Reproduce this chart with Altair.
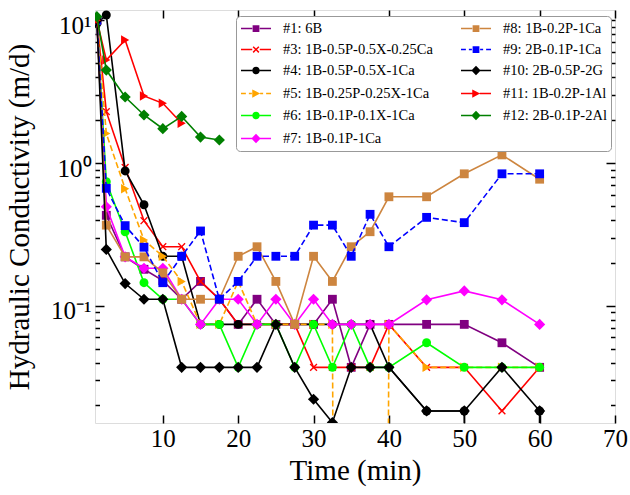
import altair as alt
import pandas as pd

# ---------------- data ----------------
T = [1.25, 2.5, 5, 7.5, 10, 12.5, 15, 17.5, 20, 22.5, 25, 27.5, 30,
     32.5, 35, 37.5, 40, 45, 50, 55, 60]

labels = ["#1: 6B", "#3: 1B-0.5P-0.5X-0.25Ca", "#4: 1B-0.5P-0.5X-1Ca",
          "#5: 1B-0.25P-0.25X-1Ca", "#6: 1B-0.1P-0.1X-1Ca", "#7: 1B-0.1P-1Ca",
          "#8: 1B-0.2P-1Ca", "#9: 2B-0.1P-1Ca", "#10: 2B-0.5P-2G",
          "#11: 1B-0.2P-1Al", "#12: 2B-0.1P-2Al"]

s1 = [10, 0.43, 0.22, 0.18, 0.15, 0.111, 0.148, 0.111, 0.074, 0.111, 0.074,
      0.074, 0.074, 0.111, 0.037, 0.074, 0.074, 0.074, 0.074, 0.055, 0.037]
s3 = [10, 2.29, 0.93, 0.394, 0.259, 0.259, 0.148, 0.111, 0.074, 0.074, 0.074,
      0.074, 0.037, 0.037, 0.037, 0.037, 0.074, 0.037, 0.037, 0.0183, 0.037]
s4 = [9.5, 10.9, 0.88, 0.51, 0.222, 0.222, 0.074, 0.074, 0.074, 0.074, 0.074,
      0.074, 0.074, 0.074, 0.074, 0.074, 0.037, 0.0183, 0.0183, 0, 0.0183]
s5 = [10, 1.61, 0.66, 0.289, 0.222, 0.148, 0.074, 0.074, 0.148, 0.074, 0.074,
      0.074, 0.074, 0.074, 0, 0, 0.074, 0.037, 0.037, 0.037, 0.037]
s6 = [10, 0.74, 0.33, 0.145, 0.111, 0.111, 0.074, 0.074, 0.037, 0.074, 0.074,
      0.037, 0.074, 0.037, 0.074, 0.037, 0.037, 0.055, 0.037, 0.037, 0.037]
s7 = [10, 0.494, 0.22, 0.183, 0.183, 0.111, 0.074, 0.111, 0.111, 0.074, 0.111,
      0.074, 0.111, 0.074, 0.074, 0.074, 0.074, 0.11, 0.127, 0.11, 0.074]
s8 = [10, 0.367, 0.22, 0.22, 0.17, 0.111, 0.111, 0.111, 0.222, 0.259, 0.148,
      0.074, 0.222, 0.148, 0.259, 0.33, 0.58, 0.58, 0.84, 1.14, 0.77]
s9 = [10, 0.665, 0.364, 0.257, 0.145, 0.222, 0.334, 0.111, 0.148, 0.222, 0.222,
      0.222, 0.367, 0.367, 0.222, 0.437, 0.259, 0.416, 0.382, 0.84, 0.84]
s10 = [10, 0.248, 0.143, 0.111, 0.111, 0.037, 0.037, 0.037, 0.037, 0.037, 0.074,
       0.037, 0.0221, 0.0152, 0.037, 0.037, 0.037, 0.0183, 0.0183, 0.037, 0.0183]
s11 = [10, 5.27, 7.28, 2.95, 2.62, 1.90]
s12 = [10.6, 4.48, 2.90, 2.17, 1.74, 2.12, 1.52, 1.45]
values = [s1, s3, s4, s5, s6, s7, s8, s9, s10, s11, s12]

colors = ["#800080", "#ff0000", "#000000", "#ffa500", "#00ff00", "#ff00ff",
          "#cd853f", "#0000ff", "#000000", "#ff0000", "#008000"]
markers = ["square", "x", "circle", "tri", "circle", "diamond", "square",
           "square", "diamond", "tri", "diamond"]
dashed = [False, False, False, True, False, False, False, True, False, False, False]

x_ticks = [10, 20, 30, 40, 50, 60, 70]
y_major = [0.1, 1, 10]
y_minor = [0.02, 0.03, 0.04, 0.05, 0.06, 0.07, 0.08, 0.09,
           0.2, 0.3, 0.4, 0.5, 0.6, 0.7, 0.8, 0.9,
           2, 3, 4, 5, 6, 7, 8, 9]

ZERO = 1e-30  # zero readings fall below the log axis (as in the original)

rows = []
for lab, vals in zip(labels, values):
    for t, v in zip(T, vals):
        rows.append({"series": lab, "t": t, "v": v if v > 0 else ZERO})
df = pd.DataFrame(rows)

# ---------------- styling ----------------
FONT = "Liberation Serif"
xs = alt.Scale(domain=[1, 70], nice=False, zero=False)
ys = alt.Scale(type="log", domain=[0.01507, 11.81], nice=False)

SHAPES = {"square": "square", "circle": "circle", "diamond": "diamond",
          "tri": "triangle-right"}
SIZES = {"square": 78, "circle": 80, "diamond": 125, "tri": 90}
X_PATH = "M-1,-1L1,1M-1,1L1,-1"

# legend symbols: line + marker in one filled path (unit = sqrt(size)/2)
def seg(a, b):
    return f"M{a},-0.1H{b}V0.1H{a}Z"

def line_part(is_dashed):
    if is_dashed:
        return seg(-1, -0.35) + seg(0.05, 0.45) + seg(1.55, 1.95) + seg(2.35, 3)
    return seg(-1, 0.5) + seg(1.5, 3)

MARK_PATH = {
    "square": "M0.55,-0.45H1.45V0.45H0.55Z",
    "circle": "M0.5,0A0.5,0.5 0 1,1 1.5,0A0.5,0.5 0 1,1 0.5,0Z",
    "diamond": "M1,-0.62L1.62,0L1,0.62L0.38,0Z",
    "tri": "M0.5,-0.55L1.55,0L0.5,0.55Z",
    "x": ("M0.55,-0.31L0.69,-0.45L1,-0.14L1.31,-0.45L1.45,-0.31L1.14,0"
          "L1.45,0.31L1.31,0.45L1,0.14L0.69,0.45L0.55,0.31L0.86,0Z"),
}

layers = []
for i, lab in enumerate(labels):
    base = alt.Chart(df).transform_filter(alt.datum.series == lab)
    enc = dict(x=alt.X("t:Q", scale=xs, axis=None),
               y=alt.Y("v:Q", scale=ys, axis=None))
    lk = dict(color=colors[i], strokeWidth=1.6, clip=True)
    if dashed[i]:
        lk["strokeDash"] = [6, 3]
    layers.append(base.mark_line(**lk).encode(**enc))
    m = markers[i]
    if m == "x":
        pt = base.mark_point(shape=X_PATH, filled=False, color=colors[i],
                             strokeWidth=1.4, size=46, opacity=1, clip=True)
    else:
        pt = base.mark_point(shape=SHAPES[m], filled=True, color=colors[i],
                             size=SIZES[m], opacity=1, clip=True)
    layers.append(pt.encode(**enc))


def axis_layer(xaxis, yaxis):
    return alt.Chart(df).mark_point(opacity=0, clip=True).encode(
        x=alt.X("t:Q", scale=xs, axis=xaxis),
        y=alt.Y("v:Q", scale=ys, axis=yaxis))

TICK = dict(tickColor="black", tickWidth=1.5, domain=False, grid=False)
ax_main = axis_layer(
    alt.Axis(orient="bottom", values=x_ticks, tickSize=8, offset=-8,
             labelFontSize=25, labelPadding=3, labelFlush=False, format="d",
             title="Time (min)", titleFontSize=29, titlePadding=5,
             titleFontWeight="normal", titleFont=FONT, labelFont=FONT, **TICK),
    alt.Axis(orient="left", values=y_major, tickSize=9, offset=-9,
             labelFontSize=25, labelPadding=4, labelOffset=5,
             labelExpr="datum.value > 5 ? '10¹' : (datum.value > 0.5 ? '10⁰' : '10⁻¹')",
             title="Hydraulic Conductivity (m/d)", titleFontSize=29,
             titlePadding=16, titleFontWeight="normal", titleFont=FONT,
             labelFont=FONT, **TICK))
ax_mirror = axis_layer(
    alt.Axis(orient="top", values=x_ticks, tickSize=8, offset=-8,
             labels=False, title=None, **TICK),
    alt.Axis(orient="right", values=y_major, tickSize=9, offset=-9,
             labels=False, title=None, **TICK))
ax_minor_l = axis_layer(
    None,
    alt.Axis(orient="left", values=y_minor, tickSize=4.5, offset=-4.5,
             labels=False, title=None, **TICK))
ax_minor_r = axis_layer(
    None,
    alt.Axis(orient="right", values=y_minor, tickSize=4.5, offset=-4.5,
             labels=False, title=None, **TICK))

# legend: 2 columns (entries fill column by column)
leg_labels = labels
leg_colors = colors
leg_paths = [line_part(dashed[k]) + MARK_PATH[markers[k]] for k in range(len(labels))]

leg = alt.Legend(orient="none", legendX=141, legendY=6, columns=2,
                 title=None, symbolSize=225, labelOffset=26,
                 labelFont=FONT, labelFontSize=14.5, labelColor="black",
                 labelLimit=300, rowPadding=6, columnPadding=25, padding=4,
                 strokeColor="#999999", cornerRadius=4, fillColor="white",
                 symbolOpacity=1)
legend_layer = alt.Chart(pd.DataFrame({"series": leg_labels})).transform_filter(
    "false").mark_point(filled=True, opacity=1).encode(
    color=alt.Color("series:N", scale=alt.Scale(domain=leg_labels, range=leg_colors), legend=leg),
    shape=alt.Shape("series:N", scale=alt.Scale(domain=leg_labels, range=leg_paths), legend=leg))

chart = alt.layer(*layers, ax_main, ax_mirror, ax_minor_l, ax_minor_r, legend_layer).resolve_axis(
    x="independent", y="independent"
).properties(
    width=520, height=413,
    padding={"left": 95, "top": 10, "right": 15, "bottom": 72},
    autosize=alt.AutoSizeParams(type="none"),
).configure_view(
    stroke="black", strokeWidth=2
).configure_axis(
    labelFont=FONT, titleFont=FONT, labelColor="black", titleColor="black",
    titleFontWeight="normal"
).configure(font=FONT, background="white")

chart.save("out.html", embed_options={"renderer": "svg", "actions": False})
